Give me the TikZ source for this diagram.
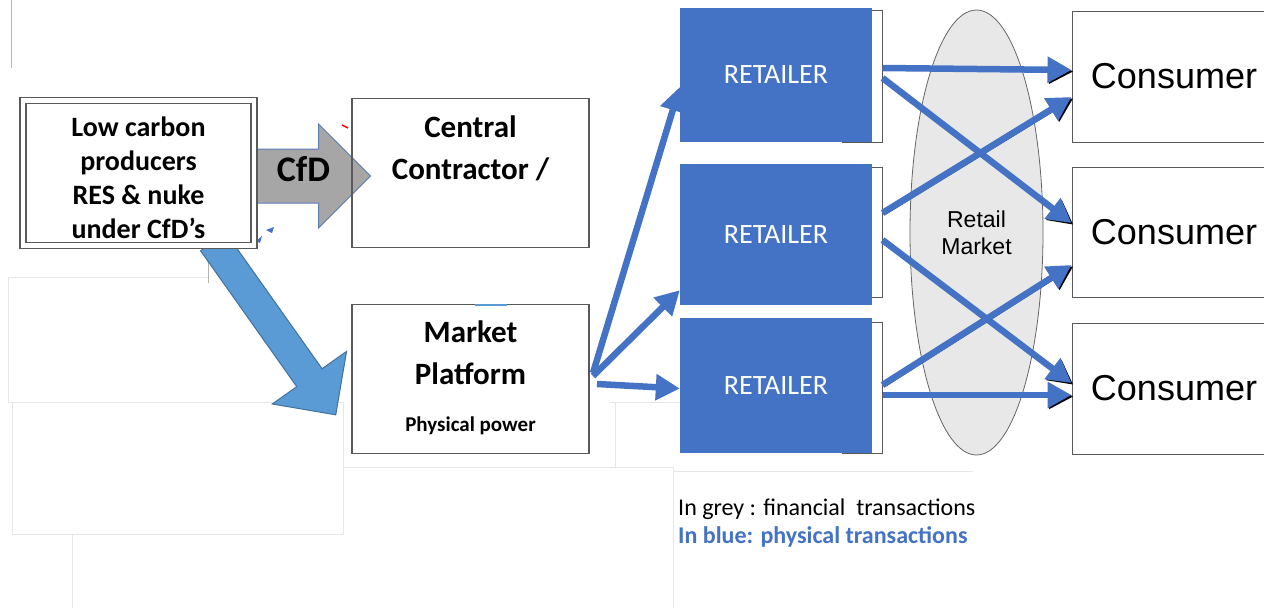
\documentclass[tikz,border=0pt]{standalone}
\usepackage{fontspec}
\setmainfont{Carlito}
\newfontfamily\arialfont{Liberation Sans}
\usetikzlibrary{shapes.geometric, shapes.arrows, arrows.meta, positioning, backgrounds, calc}

\definecolor{retblue}{HTML}{4472C4}
\definecolor{fatblue}{HTML}{5B9BD5}
\definecolor{fatedge}{HTML}{41719C}
\definecolor{cfdgrey}{HTML}{A6A6A6}
\definecolor{cfdedge}{HTML}{5B7DB8}
\definecolor{boxline}{HTML}{595959}
\definecolor{faint}{HTML}{E6E6E6}
\definecolor{mktgrey}{HTML}{E8E8E8}

\begin{document}
\begin{tikzpicture}[
    x=1pt, y=-1pt,
    box/.style={rectangle, draw=boxline, line width=1.3pt, minimum width=237pt, minimum height=149pt, inner sep=0pt, outer sep=0pt},
    boldtxt/.style={font=\fontsize{31}{42}\selectfont\bfseries, align=center, inner sep=0pt},
    retailer/.style={rectangle, fill=retblue, minimum width=192pt, inner sep=0pt, text=white, font=\fontsize{28}{32}\selectfont},
    retback/.style={rectangle, draw=boxline, fill=white, line width=1pt, minimum width=40pt, inner sep=0pt},
    consumer/.style={rectangle, draw=boxline, line width=1pt, minimum width=204pt, inner sep=0pt, font=\arialfont\fontsize{36}{40}\selectfont},
    flow/.style={line width=6.5pt, color=retblue, -{Triangle[length=24pt, width=25pt]}},
    trade/.style={flow, preaction={draw=black, line width=2pt, -{Triangle[length=24pt, width=25pt]}, transform canvas={shift={(1.5pt,-1.5pt)}}}},
    faintline/.style={draw=faint, line width=1pt}
]
    \useasboundingbox (0,0) rectangle (1264,608);
    \clip (0,0) rectangle (1264,608);

    % producers and the two central boxes
    \node[box, double=white, double distance=4.5pt, fill=white, minimum width=231pt, minimum height=145pt] (producer) at (138.5,173) {};
    \node[align=center, inner sep=0pt, font=\fontsize{28}{34}\selectfont\bfseries] (producerTxt) at ([yshift=-5pt]producer.center)
        {Low carbon\\producers\\RES \& nuke\\under CfD’s};
    \node[box, right=98pt of producer] (contractor) {};
    \node[boldtxt, below=17pt of contractor.north] (contractorTxt) {Central\\Contractor /};
    \node[box, below=57pt of contractor] (platform) {};
    \node[boldtxt, below=16pt of platform.north] (platformTxt) {Market\\Platform};
    \node[font=\fontsize{21}{25}\selectfont\bfseries, inner sep=0pt, anchor=base] (platformSub) at ([yshift=22pt]platform.south) {Physical power};
    \draw[fatblue, line width=2pt] ([xshift=4pt]platform.north) -- ([xshift=36pt]platform.north);

    % retailers
    \node[retback, minimum height=132pt] (ret1b) at (862,76) {};
    \node[retback, minimum height=130pt] (ret2b) at (862,232) {};
    \node[retback, minimum height=131pt] (ret3b) at (862,387.5) {};
    \node[retailer, minimum height=134pt] (ret1) at (776,75) {RETAILER};
    \node[retailer, minimum height=141pt] (ret2) at (776,234.5) {RETAILER};
    \node[retailer, minimum height=135pt] (ret3) at (776,385.5) {RETAILER};

    % retail market and consumers
    \node[ellipse, draw=gray!80!black, fill=mktgrey, line width=0.8pt, minimum width=133pt, minimum height=445pt, inner sep=0pt,
          align=center, font=\arialfont\fontsize{23}{27}\selectfont] (market) at (976.5,232.5) {Retail\\Market};
    \node[consumer, minimum height=131pt] (con1) at (1174,76.5) {Consumer};
    \node[consumer, minimum height=130pt] (con2) at (1174,232) {Consumer};
    \node[consumer, minimum height=131pt] (con3) at (1174,388.5) {Consumer};

    % legend
    \node[anchor=base west, inner sep=0pt, font=\fontsize{24}{29}\selectfont] (legendGrey) at (678,515) {In grey : financial~ transactions};
    \node[anchor=base west, inner sep=0pt, font=\fontsize{24}{29}\selectfont\bfseries, text=retblue] (legendBlue) at (678,543) {In blue: physical transactions};

    % physical flows
    \draw[flow] ([shift={(4pt,6pt)}]platform.east) -- ([yshift=-12pt]ret1.west);
    \draw[flow] ([shift={(4pt,3pt)}]platform.east) -- ([yshift=15pt]ret2.south west);
    \draw[flow] ([shift={(8pt,-5pt)}]platform.east) -- ([yshift=-3pt]ret3.west);

    \draw[trade] ([yshift=8pt]ret1b.east) -- ([yshift=6.5pt]con1.west);
    \draw[trade] ([yshift=-2pt]ret1b.east) -- ([yshift=9pt]con2.west);
    \draw[trade] ([yshift=19pt]ret2b.east) -- ([yshift=-20.5pt]con1.west);
    \draw[trade] ([yshift=-8pt]ret2b.east) -- ([yshift=5.5pt]con3.west);
    \draw[trade] ([yshift=2.5pt]ret3b.east) -- ([yshift=-33pt]con2.west);
    \draw[trade] ([yshift=-7.5pt]ret3b.east) -- ([yshift=-6.5pt]con3.west);

    \begin{scope}[on background layer]
        \fill[white] (0,0) rectangle (1264,608);
        % leftover frames
        \draw[gray!55, line width=1pt] (11,0) -- (11,68);
        \draw[gray!60, line width=1pt] (208,248) -- (208,283);
        \draw[faintline] (208,277) -- (8,277) -- (8,402) -- (208,402);
        \draw[faintline] (12,402) rectangle (343,534);
        \draw[faintline] (72,534) -- (72,608);
        \draw[faintline] (343,467) -- (673,467) -- (673,608);
        \draw[faintline] (673,471) -- (973,471);
        \draw[faintline] (610,402) -- (680,402);
        \draw[faintline] (615,402) -- (615,467);

        % CfD and physical feed arrows
        \node[single arrow, fill=cfdgrey, draw=cfdedge, line width=1pt, minimum height=120pt, text height=18.8pt, text depth=7.2pt,
              inner ysep=13.5pt, inner xsep=0pt, single arrow head extend=25pt, font=\fontsize{36}{40}\selectfont\bfseries] (cfd) at (297,176) {\hspace{13pt}CfD};
        \node[single arrow, fill=fatblue, draw=fatedge, line width=1pt, minimum height=212pt, inner xsep=0pt, inner ysep=15pt,
              single arrow head extend=30pt, rotate=-54.7] (feed) at (270,322) {};
        \draw[red, line width=1.5pt] (342,125) -- (348,128);
        \fill[retblue] (266,230) -- (274,227) -- (272,233) -- cycle;
        \fill[retblue] (256,241) -- (262,236) -- (260,243) -- cycle;
    \end{scope}
\end{tikzpicture}
\end{document}
